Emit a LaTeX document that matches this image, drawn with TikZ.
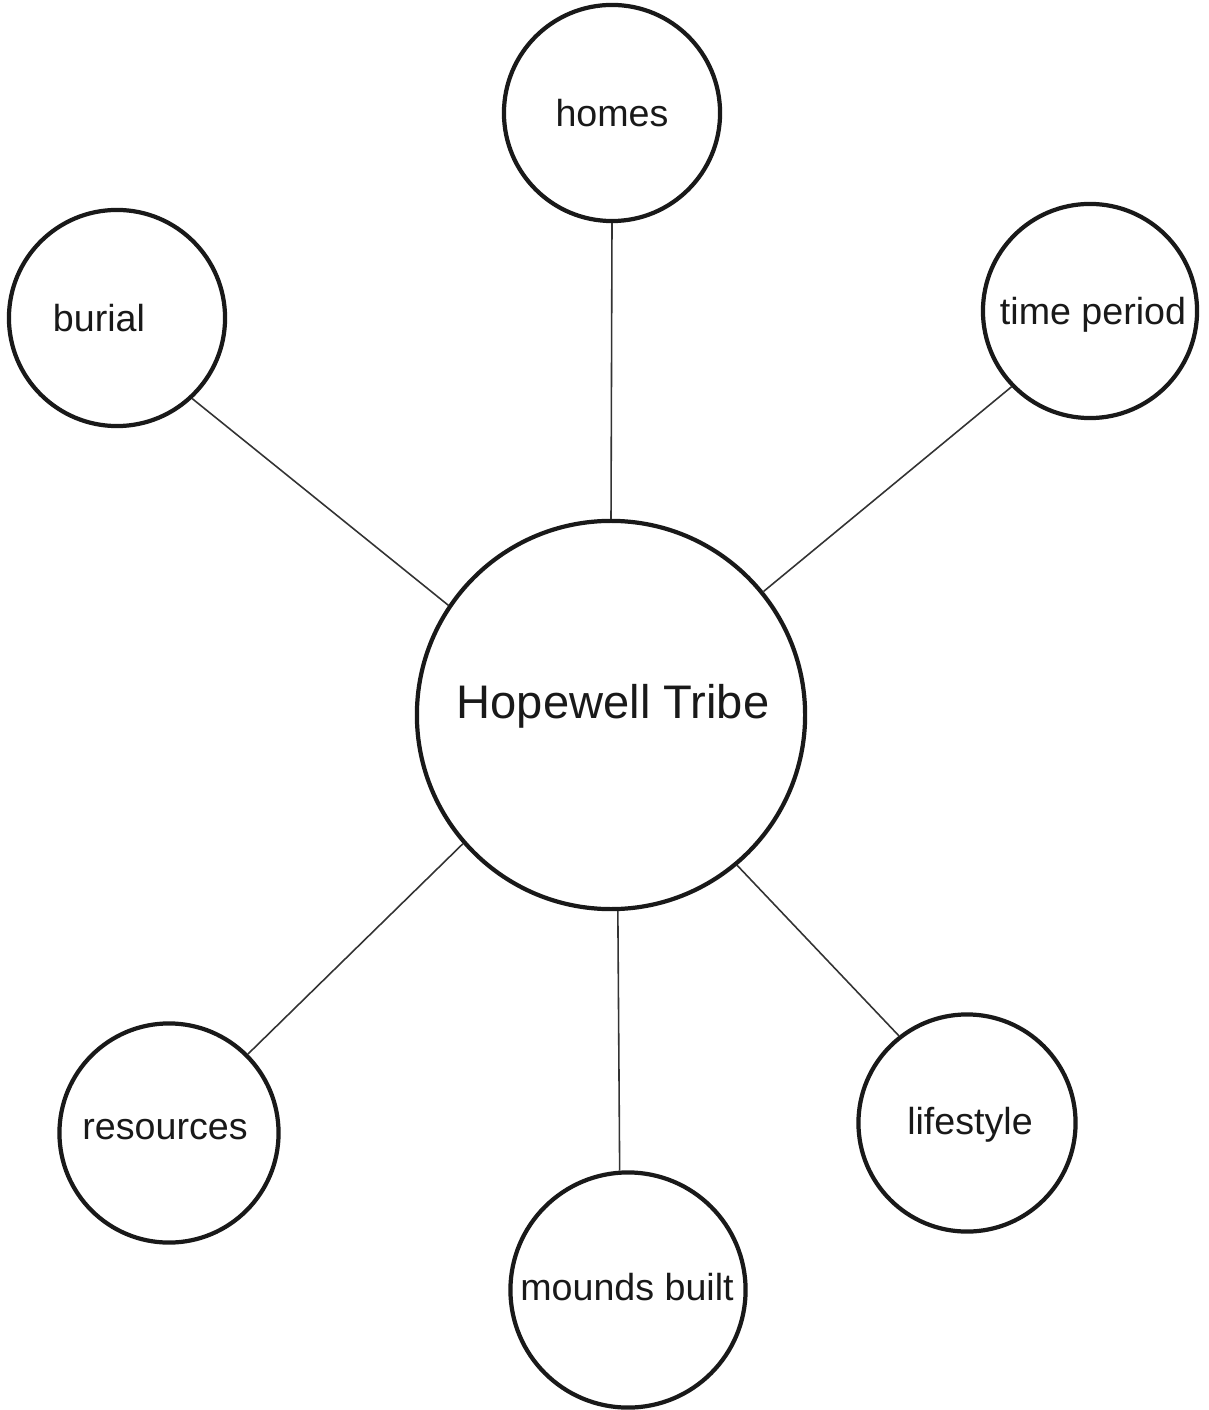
\documentclass[tikz,border=0pt]{standalone}
\usepackage{fontspec}
\setmainfont{Liberation Sans}
\begin{document}
\begin{tikzpicture}[x=0.01cm,y=-0.01cm,
  topic/.style={circle,draw=black!90,line width=1.2pt,inner sep=0pt},
  label/.style={font=\fontsize{10.7}{12}\selectfont,text=black!90},
  link/.style={draw=black!80,line width=0.45pt}]
\useasboundingbox (0,0) rectangle (1208,1410);
% circles
\node[topic,minimum size=2.16cm] (homes) at (612,113) {};
\node[topic,minimum size=2.16cm] (burial) at (117,318) {};
\node[topic,minimum size=2.14cm] (period) at (1090,311) {};
\node[topic,minimum size=3.88cm] (hub) at (611,715) {};
\node[topic,minimum size=2.19cm] (res) at (169,1133) {};
\node[topic,minimum size=2.35cm] (mounds) at (628,1290) {};
\node[topic,minimum size=2.17cm] (life) at (967,1123) {};
% texts
\node[label] at (612,113) {homes};
\node[label] at (99,318) {burial};
\node[label] at (1093,315) {time period};
\node[label,font=\fontsize{13.4}{15}\selectfont] at (613,706) {Hopewell Tribe};
\node[label] at (165,1130) {resources};
\node[label] at (627,1287) {mounds built};
\node[label] at (970,1125) {lifestyle};
% connectors
\draw[link] (homes.-90) -- (hub.90);
\draw[link] (burial.-47) -- (hub.146);
\draw[link] (period.224.6) -- (hub.39.6);
\draw[link] (res.45.4) -- (hub.221.3);
\draw[link] (mounds.94.5) -- (hub.-88.5);
\draw[link] (life.128) -- (hub.-50.3);
\end{tikzpicture}
\end{document}
